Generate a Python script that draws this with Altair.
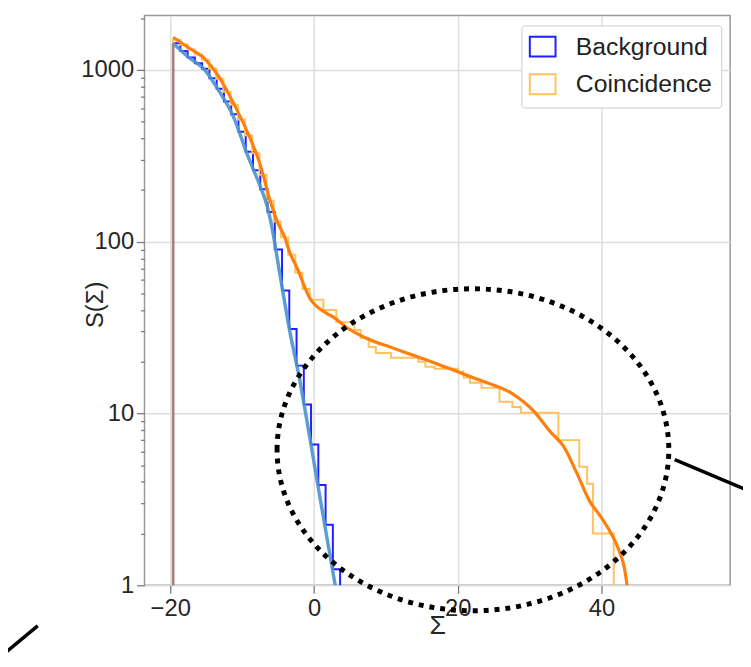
import altair as alt
import pandas as pd

# ---------------- data ----------------
# Background: survival-function histogram (bin edges, value per bin)
bg_edges = [-19.6, -18.59, -17.58, -16.57, -15.56, -14.55, -13.54, -12.53, -11.52,
            -10.51, -9.5, -8.49, -7.48, -6.47, -5.46, -4.45, -3.44, -2.43, -1.42,
            -0.41, 0.6, 1.61, 2.62, 3.63]
bg_values = [1430, 1290, 1180, 1095, 1016, 894, 776, 654, 552, 436, 334, 261, 202,
             149, 90, 52, 31, 19, 11.3, 6.6, 3.84, 2.25, 1.24]

# Coincidence: survival-function histogram
co_edges = [-19.6, -18.6, -17.6, -16.6, -15.6, -14.6, -13.6, -12.6, -11.6, -10.6,
            -9.6, -8.6, -7.6, -6.6, -5.6, -4.6, -3.6, -2.6, -1.6, -0.6,
            1.3, 3.1, 5.6, 6.5, 7.6, 8.6, 10.7, 14.5, 15.5, 16.8,
            20.0, 20.8, 21.7, 23.3, 25.8, 27.6, 28.8, 34.0, 36.9, 38.0, 38.8, 41.7]
co_values = [1500, 1403, 1315, 1230, 1145, 1016, 888, 746, 628, 514,
             417, 327, 245, 173, 131, 106, 84, 66, 53, 46,
             40, 34, 30.6, 27.5, 24.4, 22.5, 21.1, 20.0, 18.7, 18.2,
             17.5, 16.2, 15.1, 14.1, 11.7, 10.9, 10.1, 7.0, 4.9, 3.9, 2.0]

# Smooth fits
bg_curve_x = [-19.6, -17.5, -15.2, -13.4, -11.1, -9.3, -7.6, -6.5, -5.8, -4.7,
              -3.4, -2.0, -0.6, 0.8, 2.1, 2.95, 3.3]
bg_curve_s = [1430, 1190, 1000, 776, 521, 323, 216, 160, 118, 63,
              30.6, 15.8, 7.3, 3.3, 1.6, 1.0, 0.82]

co_curve_x = [-19.6, -17.5, -15.2, -13.4, -11.1, -9.3, -7.5, -6.1, -5.15, -4.0,
              -3.4, -2.4, -0.6, 1.7, 2.7, 4.5, 7.2, 10.9, 13.7, 16.8,
              20.0, 23.7, 27.4, 30.6, 32.9, 34.7, 36.5, 38.4, 39.8, 41.2,
              42.5, 43.2, 43.6, 43.8]
co_curve_s = [1550, 1350, 1160, 936, 628, 438, 282, 173, 132, 104,
              87, 71, 47, 38.4, 36.4, 31.8, 27.5, 24.1, 21.9, 19.7,
              17.5, 15.3, 13.2, 10.3, 7.8, 6.45, 4.56, 3.06, 2.54, 2.05,
              1.57, 1.25, 0.97, 0.85]

start_x = [-19.6]
start_top = [1430]

x_ticks = [-20, 0, 20, 40]
y_major = [1, 10, 100, 1000]
y_minor = [2, 3, 4, 5, 6, 7, 8, 9, 20, 30, 40, 50, 60, 70, 80, 90,
           200, 300, 400, 500, 600, 700, 800, 900, 2000]

series_names = ["Background", "Coincidence"]
step_colors = ["#1f1fff", "#ffc25e"]

FLOOR = 0.3


def step_frame(edges, values, name):
    xs = [edges[0]] + list(edges[:-1]) + [edges[-1], edges[-1]]
    ss = [FLOOR] + list(values) + [values[-1], FLOOR]
    return pd.DataFrame({"x": xs, "S": ss, "series": name, "i": list(range(len(xs)))})


steps = pd.concat([step_frame(bg_edges, bg_values, series_names[0]),
                   step_frame(co_edges, co_values, series_names[1])], ignore_index=True)
bg_curve = pd.DataFrame({"x": bg_curve_x, "S": bg_curve_s})
co_curve = pd.DataFrame({"x": co_curve_x, "S": co_curve_s})
start_df = pd.DataFrame({"x": start_x, "S": [1], "S2": start_top})

FONT = "Liberation Sans"
major_test = "indexof([1,10,100,1000], datum.value) >= 0"

xscale = alt.Scale(domain=[-23.58, 57.89], nice=False, zero=False)
yscale = alt.Scale(type="log", domain=[1, 2074], nice=False)

xenc = alt.X("x:Q", scale=xscale,
             axis=alt.Axis(values=x_ticks, title="Σ", format="d", tickSize=8,
                           labelPadding=4, titleY=41, titleBaseline="middle",
                           titleFontSize=27))
yenc = alt.Y("S:Q", scale=yscale,
             axis=alt.Axis(values=sorted(y_major + y_minor), title="S(Σ)",
                           labelExpr=major_test + " ? format(datum.value, 'd') : ''",
                           labelOverlap=False,
                           tickSize={"condition": {"test": major_test, "value": 8}, "value": 4},
                           gridOpacity={"condition": {"test": major_test, "value": 1}, "value": 0},
                           labelPadding=3, titleX=-49, titleY=292,
                           titleBaseline="middle", titleFontSize=24))

step_layer = alt.Chart(steps).mark_line(interpolate="step-after", strokeWidth=2, clip=True).encode(
    x=xenc, y=yenc,
    color=alt.Color("series:N",
                    scale=alt.Scale(domain=series_names, range=step_colors),
                    legend=alt.Legend(title=None, orient="none", legendX=381, legendY=10,
                                      symbolType="M-1.3,-1L1.3,-1L1.3,1L-1.3,1Z",
                                      symbolSize=400, symbolStrokeWidth=2,
                                      symbolFillColor="white",
                                      labelFont=FONT, labelFontSize=25, labelColor="#222222",
                                      labelOffset=21, padding=9, rowPadding=9,
                                      strokeColor="#cccccc", fillColor="white",
                                      cornerRadius=3)),
    order="i:Q",
)

bg_line = alt.Chart(bg_curve).mark_line(interpolate="monotone", color="#4a94cf",
                                        strokeWidth=3.5, clip=True, opacity=0.9).encode(x=xenc, y=yenc)
co_line = alt.Chart(co_curve).mark_line(interpolate="monotone", color="#ff7f0e",
                                        strokeWidth=3.2, clip=True).encode(x=xenc, y=yenc)
start_rule = alt.Chart(start_df).mark_rule(color="#a88080", strokeWidth=2.5).encode(
    x=xenc, y=yenc, y2="S2:Q")

one = pd.DataFrame({"k": [0]})
ellipse = alt.Chart(one).mark_point(
    shape="M-1,0A1,0.822,0,1,1,1,0A1,0.822,0,1,1,-1,0Z",
    size=156816, filled=False, stroke="black", strokeWidth=5,
    strokeDash=[5, 6], opacity=1).encode(x=alt.value(332), y=alt.value(439))
link_left = alt.Chart(one).mark_rule(color="black", strokeWidth=3.5).encode(
    x=alt.value(-150), x2=alt.value(-108), y=alt.value(652), y2=alt.value(617))
link_right = alt.Chart(one).mark_rule(color="black", strokeWidth=3.5).encode(
    x=alt.value(536), x2=alt.value(610), y=alt.value(449), y2=alt.value(480))

chart = alt.layer(step_layer, bg_line, co_line, start_rule, ellipse, link_left, link_right).properties(
    width=592, height=576,
    autosize=alt.AutoSizeParams(type="none"),
    padding={"left": 138, "top": 4, "right": 13, "bottom": 79},
).configure_view(stroke="#9a9a9a", strokeWidth=1.5).configure_axis(
    labelFont=FONT, labelFontSize=24, labelColor="#262626",
    titleFont=FONT, titleColor="#262626", titleFontWeight="normal",
    tickColor="#7a7a7a", tickWidth=1.3, domain=False,
    gridColor="#dddddd", gridWidth=1.5,
)

chart.save("out.html", embed_options={"renderer": "svg", "actions": False})
